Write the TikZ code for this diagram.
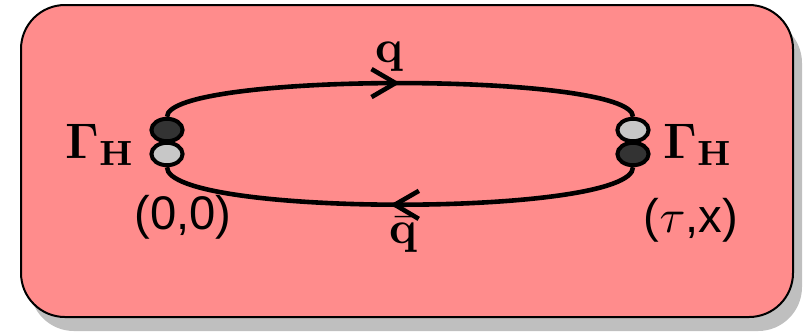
\documentclass[tikz,border=0pt]{standalone}
\usepackage{fix-cm}
\usepackage[no-math]{fontspec}
\setsansfont{Liberation Sans}
\usetikzlibrary{arrows.meta,shapes.geometric,decorations.markings}

\begin{document}
\begin{tikzpicture}[
  x=0.25pt, y=-0.25pt,
  frame/.style={draw, line width=0.5pt, rounded corners=11pt, fill=red!45},
  shadowbox/.style={fill=black!25, rounded corners=11pt},
  dot/.style={ellipse, draw, line width=1pt, inner sep=0pt,
              minimum width=7.8pt, minimum height=5.6pt},
  dkdot/.style={dot, fill=black!80},
  ltdot/.style={dot, fill=black!22},
  prop/.style={line width=1.15pt, postaction={decorate}},
  flow/.style={decoration={markings, mark=at position #1 with
               {\arrow{Straight Barb[length=6pt, width=7pt]}}}},
  lbl/.style={font=\fontsize{11.5}{14}\selectfont, inner sep=0pt},
  gam/.style={font=\fontsize{12.5}{15}\selectfont, inner sep=0pt},
  crd/.style={font=\sffamily\fontsize{11.8}{14}\selectfont, inner sep=0pt},
]
\useasboundingbox (0,0) rectangle (804,335);

% box with its shadow
\fill[shadowbox] (30,19) rectangle (802,331);
\draw[frame] (21,5) rectangle (793,317);

% vertices
\node[dkdot] (ldk) at (167,130) {};
\node[ltdot] (llt) at (167,154) {};
\node[ltdot] (rlt) at (633,130) {};
\node[dkdot] (rdk) at (633,154) {};

% quark lines
\draw[prop, flow=0.5] (ldk.north) .. controls +(0,-45) and +(0,-45) .. (rlt.north);
\draw[prop, flow=0.52] (rdk.south) .. controls +(0,50) and +(0,50) .. (llt.south);

% labels
\node[gam] (gl) at (100,145) {$\mathbf{\Gamma_H}$};
\node[gam] (gr) at (698,145) {$\mathbf{\Gamma_H}$};
\node[lbl] (q)  at (389,57)  {$\mathbf{q}$};
\node[lbl] (qb) at (403,235) {$\bar{\mathbf{q}}$};
\node[crd] (org) at (183,217) {(0,0)};
\node[crd] (end) at (691,220) {($\tau$,x)};
\end{tikzpicture}
\end{document}
